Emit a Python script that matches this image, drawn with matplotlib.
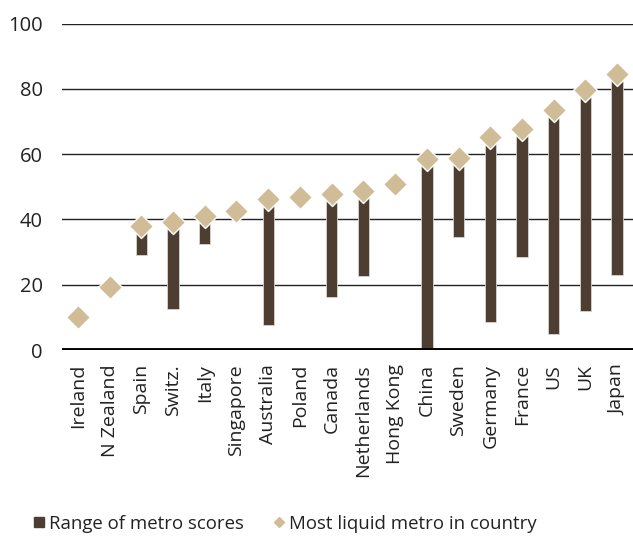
import matplotlib.pyplot as plt
from matplotlib.lines import Line2D

# -------------------------------
# Data
# -------------------------------
countries = ['Ireland', 'N Zealand', 'Spain', 'Switz.', 'Italy', 'Singapore',
             'Australia', 'Poland', 'Canada', 'Netherlands', 'Hong Kong',
             'China', 'Sweden', 'Germany', 'France', 'US', 'UK', 'Japan']
top_metro = [10.1, 19.2, 37.9, 39.2, 41.0, 42.5, 46.2, 47.0, 47.9, 48.7,
             51.0, 58.6, 58.9, 65.2, 67.8, 73.4, 79.7, 84.6]
# lowest metro score; None = single metro, no range bar
low_metro = [None, None, 29.0, 12.7, 32.6, None, 7.8, None, 16.3, 22.6,
             None, 0.0, 34.7, 8.6, 28.4, 5.0, 11.9, 22.9]

bar_color = '#4e3d31'
dot_color = '#d0bd98'

plt.rcParams['font.family'] = ['Open Sans', 'DejaVu Sans']

fig = plt.figure(figsize=(6.33, 5.36), dpi=100)
ax = fig.add_axes([0.098, 0.347, 0.902, 0.609])

# -------------------------------
# Range bars + diamonds
# -------------------------------
for i, (hi, lo) in enumerate(zip(top_metro, low_metro)):
    if lo is None:
        continue
    ax.bar(i, hi - lo, bottom=lo, width=0.36, color=bar_color,
           edgecolor='#d9d4cf', linewidth=0.6, zorder=3)

ax.scatter(range(len(countries)), top_metro, marker='D', s=150,
           color=dot_color, edgecolor='white', linewidth=1.0, zorder=4,
           clip_on=False)

# -------------------------------
# Axes styling
# -------------------------------
ax.set_xlim(-0.5, len(countries) - 0.5)
ax.set_ylim(0, 100)
ax.set_yticks([0, 20, 40, 60, 80, 100])
for y in [20, 40, 60, 80, 100]:
    ax.axhline(y, color='#222222', linewidth=1.0, zorder=1)
ax.axhline(0, color='black', linewidth=2.8, zorder=5)

for s in ax.spines.values():
    s.set_visible(False)
ax.tick_params(axis='y', length=0, pad=14, labelsize=14.5, labelcolor='#222222')
ax.tick_params(axis='x', length=0, pad=10, labelsize=14, labelcolor='#222222')
ax.set_xticks(range(len(countries)))
ax.set_xticklabels(countries, rotation=90, va='top', ha='center')

# -------------------------------
# Legend
# -------------------------------
handles = [
    Line2D([], [], marker='s', linestyle='none', color=bar_color, markersize=7),
    Line2D([], [], marker='D', linestyle='none', color=dot_color, markersize=5),
]
labels = ['Range of metro scores', 'Most liquid metro in country']
fig.legend(handles, labels, loc='lower left', bbox_to_anchor=(0.028, -0.025),
           ncol=2, frameon=False, fontsize=13.4, handlelength=0.5,
           handletextpad=0.3, columnspacing=1.6, labelcolor='#222222')

plt.savefig('out.png', dpi=100)
